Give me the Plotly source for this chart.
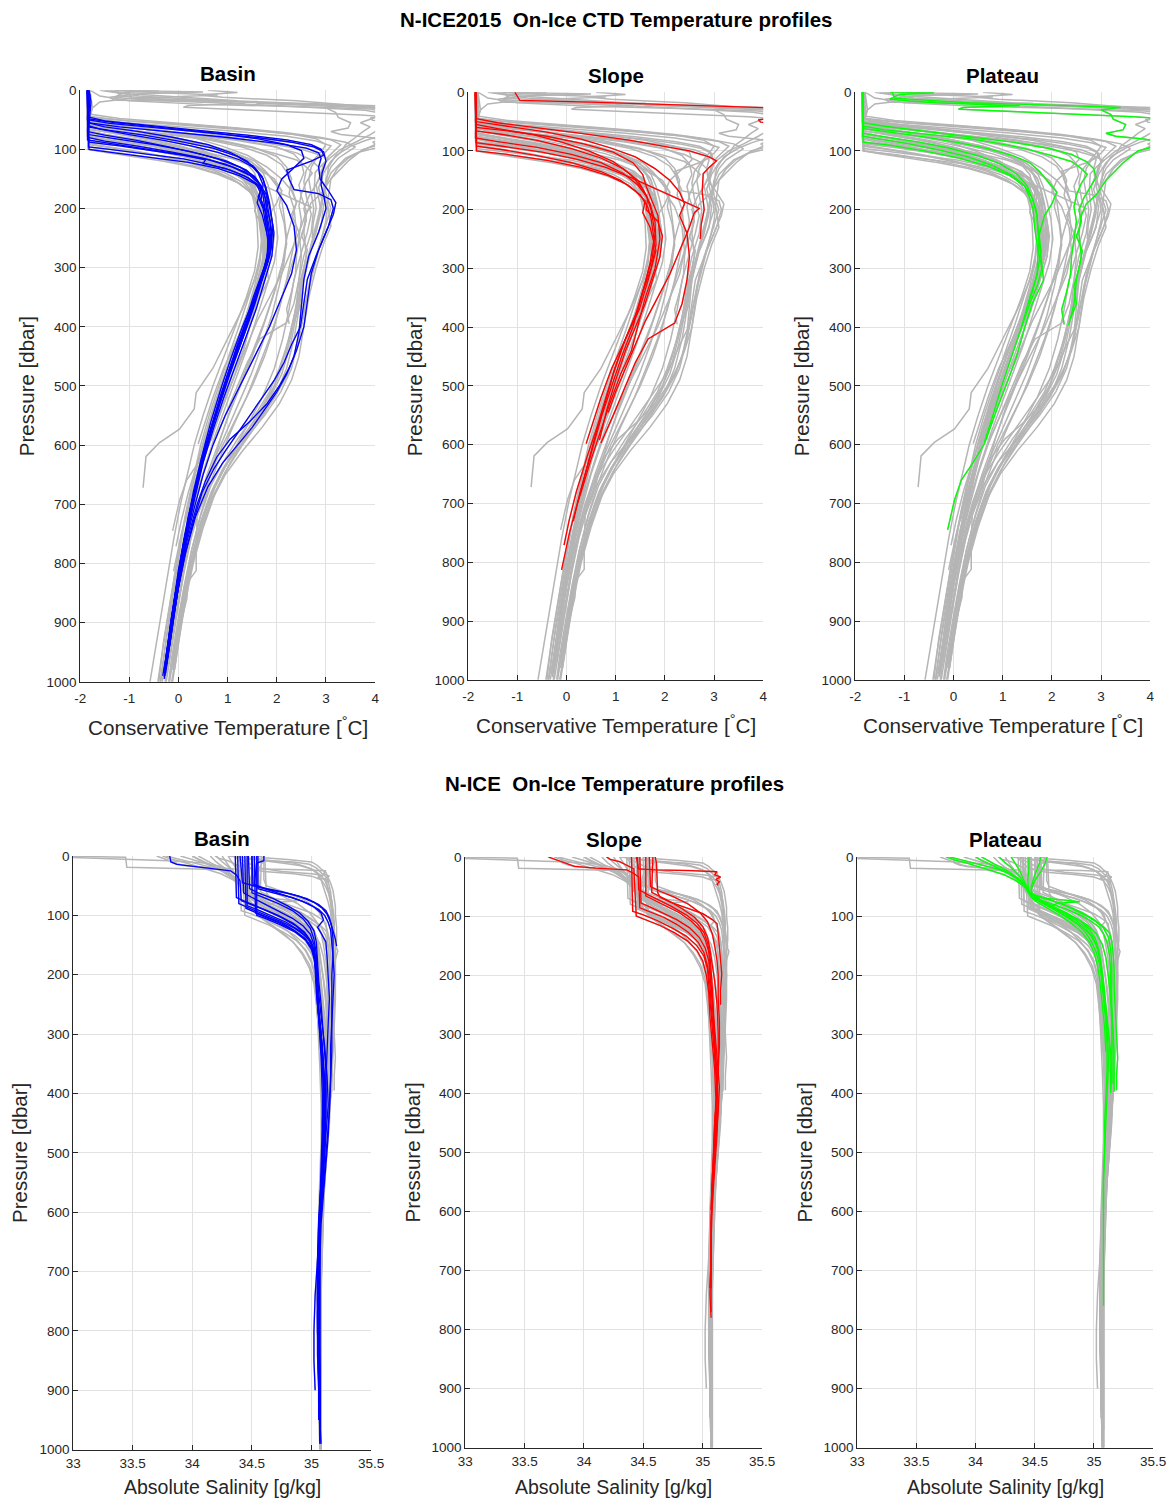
import plotly.graph_objects as go

# ---------------------------------------------------------------------------
# Conservative Temperature profiles: each profile is a list of (pressure dbar, CT degC)
# ---------------------------------------------------------------------------
basin_ct = [
    [(0,-1.84),(8,-1.80),(60,-1.83),(66,-1.6),(75,-1.0),(85,-0.3),(95,0.3),(105,0.8),(118,1.25),(132,1.55),(150,1.72),(170,1.78),(200,1.82),(240,1.9),(280,1.86),(320,1.7),(360,1.5),(400,1.36),(450,1.14),(500,0.93),(550,0.74),(600,0.55),(650,0.4),(700,0.26),(760,0.11),(820,-0.01),(880,-0.12),(940,-0.22),(985,-0.3)],
    [(0,-1.86),(55,-1.84),(62,-1.5),(70,-0.8),(80,-0.1),(92,0.6),(105,1.05),(120,1.4),(140,1.62),(160,1.72),(185,1.68),(210,1.8),(250,1.88),(290,1.78),(330,1.62),(380,1.45),(430,1.22),(480,1.0),(540,0.78),(600,0.56),(660,0.37),(720,0.2),(780,0.07),(840,-0.05),(900,-0.16),(960,-0.26)],
    [(0,-1.82),(20,-1.78),(80,-1.84),(86,-1.5),(95,-0.8),(105,-0.1),(115,0.5),(125,0.95),(138,1.35),(152,1.6),(165,1.7),(180,1.62),(200,1.72),(230,1.78),(270,1.84),(310,1.72),(350,1.55),(400,1.3),(450,1.08),(500,0.88),(560,0.66),(620,0.47),(680,0.3),(740,0.16),(800,0.03),(860,-0.08),(920,-0.18),(975,-0.28)],
    [(0,-1.85),(96,-1.83),(100,-1.4),(108,-0.6),(116,0.1),(125,0.6),(135,1.05),(148,1.42),(160,1.62),(175,1.75),(195,1.78),(220,1.86),(260,1.9),(300,1.78),(340,1.6),(390,1.42),(440,1.2),(490,1.0),(540,0.8),(590,0.6),(640,0.45),(690,0.3),(750,0.14),(810,0.0),(870,-0.1),(930,-0.2),(990,-0.32)],
    [(0,-1.83),(70,-1.85),(76,-1.5),(85,-0.85),(96,-0.2),(108,0.45),(120,0.98),(135,1.38),(150,1.58),(168,1.7),(190,1.74),(220,1.8),(260,1.86),(300,1.74),(350,1.52),(400,1.33),(460,1.08),(520,0.84),(580,0.63),(640,0.43),(700,0.27),(760,0.12),(820,0.0),(880,-0.11),(940,-0.21),(992,-0.29)],
    [(0,-1.84),(88,-1.82),(94,-1.2),(102,-0.5),(110,0.1),(118,0.55),(124,0.5),(132,0.95),(145,1.35),(158,1.58),(172,1.66),(190,1.6),(210,1.7),(250,1.82),(290,1.8),(330,1.63),(380,1.44),(430,1.2),(480,1.02),(530,0.82),(590,0.6),(650,0.4),(710,0.24),(770,0.1),(830,-0.02),(890,-0.14),(945,-0.23)],
    [(0,-1.85),(62,-1.84),(68,-1.4),(76,-0.7),(86,0.0),(98,0.7),(112,1.2),(128,1.52),(146,1.7),(165,1.78),(190,1.85),(230,1.92),(270,1.88),(310,1.74),(360,1.56),(410,1.35),(460,1.12),(510,0.9),(560,0.72),(620,0.5),(680,0.33),(740,0.18),(800,0.05),(860,-0.06),(920,-0.17),(980,-0.27)],
    [(0,-1.86),(100,-1.82),(106,-1.3),(114,-0.5),(122,0.2),(132,0.8),(145,1.25),(158,1.55),(172,1.72),(190,1.8),(220,1.76),(250,1.86),(290,1.82),(330,1.66),(380,1.47),(430,1.26),(480,1.04),(530,0.84),(580,0.66),(640,0.46),(700,0.29),(760,0.14),(820,0.02),(880,-0.09),(940,-0.2),(990,-0.28)],
    [(0,-1.84),(75,-1.83),(82,-1.3),(92,-0.5),(104,0.25),(116,0.8),(130,1.25),(146,1.55),(162,1.68),(180,1.65),(205,1.76),(245,1.84),(285,1.8),(325,1.66),(370,1.5),(420,1.28),(470,1.05),(520,0.86),(575,0.66),(630,0.47),(690,0.31),(750,0.16),(810,0.04),(870,-0.07),(930,-0.19),(985,-0.26)],
    [(0,-1.85),(84,-1.85),(90,-1.4),(99,-0.7),(108,0.0),(118,0.62),(130,1.1),(144,1.45),(160,1.66),(178,1.8),(200,1.86),(240,1.94),(280,1.9),(320,1.76),(370,1.58),(420,1.36),(470,1.14),(520,0.92),(570,0.72),(630,0.5),(690,0.33),(750,0.18),(810,0.05),(870,-0.06),(925,-0.16),(978,-0.25)],
    [(0,-1.82),(45,-1.84),(52,-1.5),(60,-0.6),(68,0.4),(76,1.4),(84,2.2),(92,2.7),(100,2.9),(110,2.95),(120,2.7),(135,2.2),(150,2.25),(168,2.35),(175,2.85),(185,3.1),(200,3.15),(230,3.05),(270,2.85),(310,2.7),(360,2.62),(400,2.55),(440,2.4),(470,2.25),(500,2.05),(530,1.8),(560,1.45),(590,1.05),(620,0.78),(660,0.55),(700,0.38),(760,0.18),(820,0.04),(880,-0.08),(940,-0.18)],
    [(0,-1.84),(50,-1.85),(56,-1.4),(64,-0.4),(72,0.6),(80,1.6),(88,2.3),(96,2.75),(104,2.95),(120,3.0),(140,2.92),(160,2.9),(180,2.96),(200,3.0),(240,2.85),(280,2.65),(320,2.55),(370,2.5),(410,2.45),(450,2.35),(480,2.2),(510,2.0),(540,1.75),(570,1.5),(600,1.2),(630,0.9),(670,0.6),(720,0.35),(780,0.15),(840,0.0),(900,-0.12),(960,-0.22)],
    [(0,-1.85),(55,-1.84),(62,-1.2),(70,-0.2),(80,1.0),(90,2.0),(98,2.6),(106,2.85),(115,2.9),(130,2.85),(150,2.88),(170,3.05),(190,3.2),(210,3.15),(240,3.0),(280,2.8),(320,2.62),(360,2.55),(400,2.48),(430,2.3),(460,2.15),(490,1.95),(520,1.7),(550,1.45),(580,1.2),(610,0.95),(640,0.72),(680,0.48),(730,0.3),(790,0.12),(850,-0.02),(910,-0.13),(970,-0.24)],
    [(0,-1.83),(48,-1.85),(55,-1.3),(63,-0.3),(72,0.7),(82,1.6),(92,2.2),(102,2.5),(115,2.55),(135,2.3),(150,2.1),(170,2.0),(195,2.2),(230,2.35),(270,2.4),(310,2.3),(350,2.1),(400,1.85),(450,1.55),(500,1.25),(550,0.95),(600,0.7),(650,0.5),(700,0.34),(760,0.16),(820,0.03),(880,-0.09),(940,-0.19),(995,-0.29)],
]

slope_ct = [
    [(0,-1.05),(8,-1.0),(14,-0.95),(17,0.5),(22,2.5),(27,4.3),(36,4.6),(44,4.2),(47,3.9),(51,3.95),(54,4.4),(60,4.6)],
    [(0,-1.85),(55,-1.84),(62,-1.4),(72,-0.7),(85,-0.1),(100,0.45),(118,0.95),(140,1.3),(165,1.55),(190,1.7),(220,1.8),(260,1.82),(300,1.72),(340,1.55),(400,1.35),(450,1.12),(500,0.92),(550,0.72),(600,0.55),(650,0.38),(700,0.22),(750,0.06),(813,-0.1)],
    [(0,-1.86),(66,-1.84),(72,-1.3),(82,-0.6),(96,0.1),(112,0.7),(130,1.15),(150,1.45),(175,1.62),(200,1.72),(240,1.8),(280,1.75),(320,1.62),(370,1.45),(420,1.2),(470,0.98),(520,0.8),(570,0.62),(620,0.42),(680,0.2),(730,0.05),(771,-0.05)],
    [(0,-1.85),(92,-1.83),(98,-1.3),(108,-0.6),(120,0.1),(135,0.7),(150,1.1),(168,1.4),(185,1.6),(205,1.55),(230,1.7),(270,1.82),(320,1.66),(370,1.48),(420,1.2),(470,0.92),(520,0.7),(560,0.55),(598,0.4)],
    [(0,-1.84),(78,-1.85),(84,-1.4),(94,-0.6),(106,0.1),(120,0.7),(138,1.15),(158,1.45),(180,1.65),(200,1.62),(220,1.86),(245,1.95),(280,1.9),(320,1.75),(360,1.6),(400,1.4),(440,1.2),(490,1.0),(540,0.82),(592,0.67)],
    [(0,-1.84),(50,-1.85),(58,-1.2),(68,-0.4),(80,0.3),(95,0.9),(110,1.4),(130,1.8),(150,2.1),(170,2.3),(190,2.4),(210,2.3),(240,2.45),(280,2.5),(320,2.45),(360,2.35),(393,2.2),(420,1.66),(460,1.4),(505,1.18),(550,0.95),(597,0.7)],
    [(0,-1.84),(45,-1.83),(52,-1.4),(60,-0.6),(70,0.3),(82,1.3),(92,2.0),(100,2.5),(110,2.9),(117,3.05),(128,2.9),(139,2.78),(170,2.76),(200,2.8),(225,2.74),(250,2.72)],
    [(0,-1.86),(60,-1.84),(66,-1.2),(75,-0.4),(88,0.35),(102,0.95),(120,1.35),(140,1.55),(160,1.62),(180,1.72),(210,1.86),(250,1.9),(300,1.8),(350,1.6),(400,1.45),(440,1.32),(480,1.1),(530,0.88),(580,0.68),(630,0.48),(680,0.3),(700,0.22)],
    [(0,-1.85),(86,-1.84),(92,-1.3),(102,-0.5),(114,0.2),(128,0.8),(145,1.3),(160,1.7),(175,2.1),(190,2.5),(198,2.7),(205,2.6),(230,2.5),(270,2.3),(310,2.1),(350,1.85),(390,1.6),(430,1.4),(470,1.2),(510,1.0),(545,0.85)],
    [(0,-1.85),(100,-1.83),(106,-1.2),(116,-0.4),(128,0.3),(142,0.85),(158,1.25),(175,1.5),(195,1.65),(215,1.72),(250,1.78),(290,1.7),(330,1.58),(380,1.4),(430,1.15),(480,0.95),(530,0.78),(580,0.6),(630,0.44),(680,0.28),(730,0.14)],
]

plateau_ct = [
    [(0,-1.3),(1,-0.4),(4,-1.1),(12,-1.3),(15,-0.9),(18,-0.35),(21,0.6),(23,1.35),(26,0.2),(29,0.1),(34,1.5),(38,2.8),(42,3.7),(44,4.05),(48,4.4)],
    [(0,-1.25),(10,-1.2),(14,-0.5),(18,0.3),(22,2.0),(26,3.4),(30,3.0),(38,3.2),(46,3.25),(55,3.5),(64,3.45),(70,3.1),(75,3.3),(80,3.9),(84,4.1),(90,4.2),(100,3.75),(120,3.45),(150,3.1),(175,2.9),(190,2.7),(210,2.6),(240,2.55),(280,2.6),(320,2.5),(360,2.45),(397,2.34)],
    [(0,-1.85),(58,-1.84),(64,-1.4),(72,-0.5),(80,0.4),(90,1.1),(98,1.55),(108,2.0),(118,2.4),(130,2.6),(140,2.72),(155,2.6),(175,2.5),(195,2.45),(220,2.5),(250,2.45),(280,2.4),(310,2.38),(340,2.3),(370,2.2),(395,2.25)],
    [(0,-1.84),(62,-1.83),(68,-1.3),(76,-0.6),(86,0.1),(96,0.7),(108,1.2),(120,1.55),(135,1.75),(150,1.9),(170,2.1),(190,2.0),(210,1.85),(240,1.75),(270,1.72),(300,1.8),(330,1.7),(360,1.55),(400,1.38)],
    [(0,-1.85),(70,-1.84),(76,-1.4),(85,-0.7),(95,-0.1),(108,0.5),(122,0.95),(140,1.3),(160,1.5),(185,1.62),(210,1.7),(240,1.72),(280,1.78),(320,1.83),(360,1.6),(400,1.45),(450,1.28),(490,1.11),(540,0.88),(598,0.63),(630,0.4),(660,0.16),(694,0.02),(720,-0.05),(745,-0.12)],
    [(0,-1.86),(85,-1.84),(90,-1.3),(100,-0.6),(112,0.1),(126,0.7),(142,1.15),(160,1.45),(180,1.6),(200,1.68),(230,1.72),(270,1.78),(310,1.7),(350,1.55),(400,1.38),(450,1.18),(500,0.98),(550,0.8),(595,0.63)],
    [(0,-1.84),(52,-1.85),(58,-1.4),(66,-0.6),(75,0.3),(85,1.2),(95,1.9),(106,2.4),(118,2.7),(130,2.85),(145,2.9),(160,2.8),(180,2.65),(200,2.55),(220,2.6),(245,2.5),(270,2.62),(300,2.55),(330,2.45),(360,2.5),(385,2.38)],
    [(0,-1.83),(75,-1.85),(80,-1.5),(88,-0.9),(98,-0.3),(110,0.3),(125,0.8),(142,1.2),(160,1.45),(180,1.55),(200,1.62),(230,1.65),(270,1.72),(310,1.7),(340,1.6),(360,1.52)],
]

other_ct = [
    [(0,-1.84),(70,-1.84),(78,-1.3),(88,-0.6),(100,0.0),(115,0.6),(130,1.05),(150,1.4),(175,1.6),(200,1.68),(240,1.7),(280,1.66),(320,1.55),(370,1.3),(420,1.0),(470,0.7),(511,0.36),(539,0.32),(573,0.02),(596,-0.39),(619,-0.66),(640,-0.68),(672,-0.72)],
    [(0,-1.6),(5,-1.2),(10,-0.8),(15,0.2),(20,1.5),(25,2.8),(30,4.3),(40,4.6),(60,4.5),(75,4.2),(85,3.8),(95,3.5),(110,3.2),(130,3.05),(160,3.0),(200,2.9),(250,2.75),(300,2.6),(350,2.45),(400,2.3),(450,2.15),(500,1.95),(550,1.6),(600,1.2),(650,0.85),(700,0.58),(760,0.38),(820,0.22),(880,0.1),(940,-0.02),(1000,-0.14)],
    [(0,-1.8),(10,-1.6),(18,-1.0),(24,0.5),(28,2.5),(32,3.9),(38,4.3),(50,4.4),(65,4.1),(75,3.9),(88,3.6),(100,3.3),(120,3.0),(145,2.9),(175,3.0),(200,3.1),(240,2.95),(280,2.8),(330,2.65),(380,2.55),(430,2.42),(480,2.22),(520,1.95),(560,1.6),(600,1.22),(640,0.92),(680,0.68),(730,0.46),(790,0.28),(850,0.13),(910,0.0),(970,-0.12)],
    [(0,-1.2),(3,0.5),(6,-0.8),(12,-1.4),(17,-1.3),(19,1.6),(22,1.6),(26,3.0),(31,4.2),(45,4.5),(70,4.3),(90,4.05),(100,3.8),(115,3.4),(140,3.1),(170,2.95),(210,2.85),(260,2.7),(310,2.55),(370,2.42),(430,2.28),(480,2.1),(530,1.8),(580,1.42),(630,1.05),(680,0.75),(740,0.5),(800,0.3),(860,0.15),(920,0.03),(980,-0.08)],
    [(0,0.6),(4,1.2),(8,0.4),(12,0.9),(18,2.4),(24,3.4),(28,3.9),(34,4.5),(50,4.6),(70,4.5),(80,4.2),(88,3.95),(96,4.1),(104,3.7),(115,3.45),(130,3.25),(150,3.1),(180,3.05),(220,3.0),(270,2.85),(320,2.7),(370,2.55),(420,2.45),(470,2.3),(510,2.08),(550,1.75),(590,1.35),(630,1.0),(670,0.72),(720,0.5),(780,0.32),(840,0.18),(900,0.06),(960,-0.05),(1000,-0.12)],
    [(0,-1.5),(6,-1.0),(10,-0.3),(14,0.5),(18,1.2),(22,1.0),(26,1.9),(30,3.0),(34,3.8),(40,4.2),(48,3.95),(55,3.7),(62,3.9),(70,3.75),(80,3.6),(92,3.4),(105,3.3),(120,3.1),(140,2.95),(165,2.85),(195,2.95),(230,2.9),(270,2.7),(320,2.55),(370,2.45),(420,2.35),(470,2.2),(515,1.98),(555,1.68),(600,1.3),(645,0.95),(690,0.68),(740,0.46),(800,0.27),(860,0.12),(920,0.0),(980,-0.1)],
    [(0,-1.84),(40,-1.85),(48,-1.2),(56,0.0),(64,1.2),(72,2.2),(80,2.9),(88,3.4),(96,3.6),(104,3.45),(115,3.25),(130,3.1),(150,3.0),(175,2.95),(200,3.05),(230,3.1),(260,2.95),(300,2.8),(350,2.65),(400,2.55),(450,2.45),(490,2.3),(530,2.05),(570,1.7),(610,1.3),(650,0.95),(690,0.7),(740,0.48),(800,0.28),(860,0.12),(920,0.0),(980,-0.12)],
    [(0,-1.85),(44,-1.84),(52,-1.0),(60,0.3),(68,1.5),(76,2.5),(84,3.1),(92,3.3),(100,3.2),(112,3.05),(125,2.95),(140,2.9),(160,2.8),(180,2.85),(205,2.9),(240,2.8),(280,2.65),(320,2.5),(370,2.38),(420,2.25),(470,2.05),(510,1.85),(550,1.55),(590,1.2),(630,0.9),(670,0.65),(720,0.45),(780,0.26),(840,0.12),(900,0.0),(960,-0.12),(1000,-0.18)],
    [(0,-1.83),(50,-1.84),(58,-1.3),(66,-0.5),(76,0.5),(86,1.4),(96,2.0),(108,2.35),(122,2.5),(140,2.55),(160,2.45),(180,2.5),(205,2.6),(235,2.55),(270,2.4),(310,2.25),(350,2.1),(400,1.95),(450,1.75),(500,1.5),(550,1.2),(600,0.9),(650,0.65),(700,0.45),(760,0.25),(820,0.1),(880,-0.02),(940,-0.14),(1000,-0.25)],
    [(0,-1.85),(58,-1.85),(65,-1.2),(74,-0.3),(84,0.6),(96,1.3),(110,1.8),(126,2.1),(145,2.25),(165,2.3),(190,2.4),(220,2.3),(250,2.2),(290,2.15),(330,2.05),(380,1.9),(430,1.7),(480,1.48),(530,1.22),(580,0.95),(630,0.7),(680,0.5),(730,0.32),(790,0.16),(850,0.03),(910,-0.09),(970,-0.2)],
    [(0,-1.84),(65,-1.84),(72,-1.4),(82,-0.7),(94,0.0),(108,0.6),(124,1.05),(142,1.38),(162,1.56),(185,1.62),(210,1.66),(250,1.7),(290,1.66),(330,1.55),(380,1.38),(430,1.16),(480,0.94),(530,0.74),(580,0.56),(630,0.4),(680,0.25),(740,0.1),(800,-0.02),(860,-0.13),(920,-0.24),(980,-0.34),(1000,-0.37)],
    [(0,-1.86),(90,-1.84),(96,-1.4),(104,-0.8),(114,-0.15),(126,0.45),(140,0.95),(156,1.3),(174,1.5),(196,1.6),(225,1.66),(260,1.7),(300,1.62),(345,1.45),(395,1.25),(445,1.04),(495,0.84),(545,0.64),(600,0.45),(655,0.3),(710,0.16),(770,0.02),(830,-0.1),(890,-0.22),(950,-0.33),(1000,-0.42)],
    [(0,-1.85),(100,-1.84),(105,-1.5),(112,-0.9),(120,-0.3),(130,0.3),(142,0.8),(156,1.2),(172,1.45),(192,1.6),(220,1.7),(255,1.76),(295,1.72),(340,1.55),(390,1.34),(440,1.12),(490,0.9),(540,0.7),(590,0.52),(640,0.36),(690,0.22),(750,0.07),(810,-0.06),(870,-0.18),(930,-0.3),(1000,-0.4)],
    [(0,-1.84),(78,-1.85),(85,-1.4),(94,-0.8),(105,-0.1),(118,0.5),(132,0.95),(150,1.3),(170,1.48),(195,1.55),(225,1.6),(265,1.62),(305,1.55),(350,1.38),(400,1.15),(450,0.92),(500,0.7),(550,0.5),(600,0.32),(650,0.18),(700,0.04),(760,-0.1),(820,-0.22),(880,-0.33),(940,-0.45),(1000,-0.58)],
    [(0,-1.83),(55,-1.84),(62,-1.4),(70,-0.8),(80,-0.1),(92,0.6),(106,1.15),(122,1.5),(140,1.72),(160,1.82),(185,1.9),(215,1.98),(250,2.02),(290,1.95),(330,1.8),(380,1.62),(430,1.42),(480,1.2),(530,0.98),(580,0.76),(630,0.56),(680,0.38),(740,0.2),(800,0.06),(860,-0.06),(920,-0.18),(980,-0.3),(1000,-0.33)],
    [(0,-1.86),(68,-1.84),(75,-1.5),(84,-1.0),(96,-0.3),(110,0.35),(126,0.9),(144,1.3),(164,1.52),(188,1.66),(215,1.75),(250,1.8),(290,1.78),(335,1.64),(385,1.45),(435,1.24),(485,1.02),(535,0.8),(585,0.6),(640,0.42),(695,0.27),(750,0.12),(810,-0.01),(870,-0.13),(930,-0.25),(1000,-0.36)],
    [(0,-1.4),(4,-0.5),(8,0.8),(10,0.2),(14,-1.0),(20,-1.6),(30,-1.75),(46,-1.8),(54,-1.2),(62,0.0),(70,1.2),(78,2.2),(86,2.8),(94,3.1),(104,3.0),(116,2.8),(130,2.7),(150,2.65),(175,2.7),(200,2.75),(240,2.7),(280,2.55),(320,2.45),(360,2.4),(410,2.3),(460,2.15),(510,1.9),(555,1.58),(600,1.2),(640,0.9),(680,0.66),(730,0.45),(790,0.26),(850,0.12),(910,0.0),(970,-0.12)],
    [(0,-1.84),(60,-1.84),(68,-1.3),(78,-0.5),(90,0.3),(104,0.95),(120,1.45),(140,1.8),(162,2.0),(185,2.1),(215,2.15),(250,2.2),(290,2.12),(340,1.95),(390,1.75),(440,1.52),(490,1.28),(540,1.05),(590,0.85),(640,0.68),(690,0.52),(720,0.38),(770,0.36),(812,0.36),(830,0.2),(860,0.17),(900,0.05),(950,-0.08),(991,-0.17)],
    [(0,-1.85),(52,-1.84),(60,-1.2),(70,-0.3),(82,0.7),(96,1.5),(112,2.0),(130,2.2),(150,2.3),(175,2.25),(200,2.35),(240,2.4),(280,2.3),(320,2.2),(370,2.05),(420,1.85),(470,1.62),(520,1.38),(570,1.1),(620,0.85),(670,0.62),(720,0.44),(780,0.26),(840,0.11),(900,-0.02),(960,-0.14),(1000,-0.2)],
    [(0,-1.84),(72,-1.84),(80,-1.2),(90,-0.4),(102,0.4),(116,1.1),(132,1.6),(150,1.95),(170,2.1),(195,2.05),(225,2.15),(260,2.2),(300,2.1),(350,1.92),(400,1.72),(450,1.5),(500,1.26),(550,1.02),(600,0.8),(650,0.58),(700,0.4),(760,0.22),(820,0.08),(880,-0.05),(940,-0.17),(1000,-0.27)],
    [(0,-1.8),(30,-1.75),(46,-1.82),(52,-1.0),(58,0.2),(66,1.4),(74,2.3),(82,2.8),(92,3.0),(104,2.9),(118,2.75),(135,2.6),(155,2.55),(180,2.6),(210,2.7),(240,2.62),(280,2.48),(320,2.35),(370,2.25),(420,2.12),(470,1.95),(520,1.7),(570,1.38),(620,1.05),(670,0.75),(720,0.52),(780,0.3),(840,0.14),(900,0.01),(960,-0.1)],
]

# ---------------------------------------------------------------------------
# Absolute Salinity profiles: each profile is a list of (pressure dbar, SA g/kg)
# ---------------------------------------------------------------------------
basin_sa = [
    [(0,34.42),(62,34.43),(70,34.5),(80,34.6),(92,34.72),(105,34.84),(118,34.93),(132,34.99),(150,35.02),(180,35.04),(220,35.05),(260,35.06),(300,35.08),(350,35.1),(400,35.1),(450,35.09),(500,35.09),(560,35.08),(620,35.07),(700,35.07),(780,35.07),(860,35.07),(940,35.07),(985,35.07)],
    [(0,34.47),(55,34.48),(62,34.55),(72,34.68),(84,34.8),(96,34.9),(110,34.97),(126,35.02),(145,35.04),(175,35.05),(210,35.06),(250,35.08),(300,35.1),(360,35.12),(420,35.12),(480,35.11),(540,35.09),(600,35.07),(680,35.06),(760,35.06),(840,35.06),(920,35.06),(960,35.07)],
    [(0,34.38),(80,34.39),(88,34.48),(98,34.6),(110,34.74),(122,34.86),(136,34.96),(152,35.01),(175,35.03),(200,35.04),(240,35.05),(280,35.07),(320,35.09),(380,35.1),(440,35.1),(500,35.09),(560,35.08),(620,35.06),(700,35.05),(780,35.05),(860,35.06),(930,35.07),(975,35.07)],
    [(0,34.52),(96,34.53),(102,34.6),(112,34.72),(124,34.84),(138,34.94),(155,35.0),(175,35.03),(200,35.04),(240,35.05),(290,35.07),(340,35.09),(400,35.11),(460,35.1),(520,35.09),(580,35.08),(640,35.07),(720,35.07),(800,35.07),(880,35.07),(950,35.07),(990,35.07)],
    [(0,34.36),(70,34.37),(78,34.46),(88,34.58),(100,34.72),(114,34.85),(128,34.94),(145,35.0),(165,35.02),(190,35.03),(230,35.04),(270,35.06),(310,35.08),(370,35.1),(430,35.11),(490,35.1),(550,35.08),(610,35.06),(680,35.05),(750,35.05),(830,35.06),(910,35.07),(990,35.07)],
    [(0,34.44),(88,34.45),(94,34.52),(104,34.64),(114,34.76),(126,34.86),(140,34.95),(156,35.01),(180,35.03),(210,35.04),(250,35.05),(290,35.07),(330,35.09),(380,35.11),(440,35.12),(500,35.11),(560,35.09),(620,35.07),(680,35.05),(740,35.03),(800,35.02),(850,35.02),(900,35.03)],
    [(0,34.5),(62,34.5),(70,34.6),(80,34.72),(92,34.84),(106,34.93),(122,34.99),(140,35.02),(165,35.04),(195,35.05),(230,35.06),(270,35.08),(320,35.11),(370,35.13),(420,35.14),(470,35.12),(530,35.1),(590,35.08),(650,35.06),(720,35.05),(800,35.05),(880,35.06),(940,35.06)],
    [(0,34.54),(100,34.54),(106,34.62),(116,34.74),(128,34.86),(142,34.95),(158,35.0),(180,35.03),(210,35.04),(250,35.05),(300,35.07),(350,35.09),(400,35.1),(460,35.1),(520,35.09),(580,35.07),(650,35.06),(720,35.06),(800,35.06),(880,35.07),(950,35.07),(990,35.08)],
    [(0,33.81),(10,33.82),(14,33.87),(18,34.05),(25,34.32),(32,34.37),(42,34.4),(75,34.41),(82,34.5),(92,34.62),(104,34.75),(118,34.87),(134,34.96),(152,35.01),(175,35.03),(210,35.04),(250,35.05),(290,35.06),(340,35.08),(400,35.09),(460,35.09),(520,35.08),(580,35.07),(650,35.06),(720,35.05),(800,35.05),(880,35.06),(930,35.06),(978,35.07)],
    [(0,34.46),(84,34.46),(90,34.54),(100,34.66),(112,34.79),(126,34.9),(142,34.98),(160,35.02),(185,35.04),(220,35.05),(260,35.06),(300,35.08),(350,35.1),(400,35.12),(450,35.11),(500,35.1),(560,35.08),(620,35.07),(690,35.06),(760,35.06),(830,35.06),(900,35.07),(960,35.07)],
    [(0,34.4),(45,34.42),(52,34.55),(60,34.75),(68,34.9),(78,35.02),(88,35.09),(98,35.13),(112,35.16),(126,35.18),(140,35.2),(152,35.21)],
    [(0,34.5),(50,34.51),(56,34.62),(64,34.82),(72,34.96),(82,35.06),(92,35.12),(104,35.15),(120,35.17),(140,35.18),(170,35.18),(200,35.17),(240,35.17),(280,35.17),(320,35.16),(370,35.16),(420,35.15),(470,35.14),(520,35.12),(570,35.1),(620,35.08),(680,35.07),(740,35.06),(800,35.06),(860,35.06),(920,35.07),(960,35.07)],
    [(0,34.55),(55,34.55),(62,34.68),(70,34.84),(80,34.97),(90,35.06),(100,35.11),(112,35.14),(125,35.16),(145,35.17),(170,35.18),(200,35.19),(240,35.18),(280,35.17),(330,35.17),(380,35.16),(430,35.15),(480,35.13),(530,35.11),(580,35.09),(630,35.07),(700,35.06),(780,35.06),(860,35.07),(940,35.07),(975,35.07)],
    [(0,34.6),(8,34.6),(12,34.54),(48,34.52),(56,34.62),(66,34.78),(76,34.92),(86,35.02),(96,35.08),(108,35.1),(120,35.05),(130,35.08),(145,35.12),(170,35.13),(200,35.14),(240,35.15),(280,35.14),(330,35.13),(380,35.12),(430,35.12),(480,35.11),(530,35.1),(580,35.08),(640,35.07),(700,35.06),(770,35.05),(840,35.05),(900,35.06),(950,35.06)],
]

slope_sa = [
    [(0,34.44),(10,34.45),(20,34.46),(22,34.6),(23,34.9),(25,35.12),(30,35.1),(34,35.15),(38,35.11),(42,35.14),(46,35.12),(48,35.13)],
    [(0,34.45),(55,34.46),(62,34.52),(72,34.62),(84,34.74),(98,34.86),(112,34.95),(128,35.01),(145,35.04),(165,35.06),(190,35.07),(220,35.08),(260,35.09),(300,35.1),(350,35.11),(400,35.12),(450,35.11),(500,35.1),(560,35.08),(620,35.07),(680,35.07),(740,35.06),(780,35.07)],
    [(0,34.52),(66,34.52),(72,34.58),(82,34.68),(94,34.8),(108,34.9),(124,34.98),(140,35.02),(160,35.05),(185,35.06),(215,35.07),(250,35.08),(290,35.1),(340,35.12),(390,35.14),(430,35.13),(480,35.11),(530,35.09),(590,35.08),(650,35.07),(710,35.07),(771,35.07)],
    [(0,34.4),(92,34.41),(98,34.5),(108,34.62),(120,34.74),(134,34.86),(150,34.95),(168,35.01),(190,35.04),(215,35.05),(250,35.07),(290,35.08),(340,35.1),(390,35.12),(440,35.12),(490,35.1),(540,35.08),(598,35.07)],
    [(0,34.47),(78,34.48),(84,34.55),(94,34.66),(106,34.78),(120,34.89),(136,34.97),(154,35.02),(176,35.05),(200,35.06),(240,35.08),(280,35.09),(320,35.1),(370,35.12),(420,35.13),(470,35.12),(520,35.1),(560,35.09),(592,35.08)],
    [(0,34.55),(50,34.56),(58,34.64),(68,34.76),(80,34.88),(95,34.98),(110,35.04),(130,35.08),(150,35.1),(175,35.12),(200,35.13),(240,35.13),(280,35.14),(320,35.14),(360,35.13),(400,35.12),(450,35.1),(500,35.09),(550,35.08),(597,35.07)],
    [(0,34.6),(10,34.61),(60,34.62),(68,34.64),(76,34.72),(86,34.86),(96,35.0),(106,35.08),(113,35.12),(130,35.13),(150,35.14),(175,35.15),(198,35.16),(225,35.15),(250,35.15)],
    [(0,34.58),(60,34.57),(66,34.63),(75,34.72),(88,34.83),(102,34.93),(118,35.0),(136,35.04),(156,35.06),(180,35.08),(210,35.1),(250,35.12),(300,35.13),(350,35.13),(400,35.12),(450,35.1),(500,35.09),(560,35.08),(620,35.07),(680,35.07),(730,35.06)],
    [(0,33.7),(6,33.78),(12,33.85),(16,33.92),(19,34.1),(22,34.36),(28,34.42),(34,34.46),(86,34.47),(92,34.55),(102,34.67),(114,34.78),(128,34.88),(144,34.96),(162,35.01),(185,35.04),(215,35.06),(250,35.07),(290,35.09),(340,35.11),(390,35.12),(440,35.11),(490,35.1),(545,35.09)],
    [(0,34.19),(4,34.22),(8,34.3),(14,34.36),(20,34.42),(100,34.44),(106,34.52),(116,34.64),(128,34.76),(142,34.87),(158,34.95),(176,35.0),(200,35.03),(230,35.05),(270,35.06),(310,35.08),(360,35.1),(410,35.11),(460,35.1),(510,35.09),(560,35.08),(620,35.07),(680,35.07),(730,35.07)],
]

plateau_sa = [
    [(0,33.75),(5,33.82),(10,33.92),(16,34.02),(22,34.12),(30,34.24),(40,34.34),(50,34.41),(60,34.45),(66,34.5),(72,34.62),(80,34.74),(90,34.84),(100,34.94),(110,35.02),(120,35.08),(135,35.12),(155,35.14),(180,35.15),(210,35.15),(250,35.15),(290,35.16),(330,35.17),(370,35.17),(397,35.17)],
    [(0,33.78),(4,33.86),(8,33.96),(14,34.08),(20,34.18),(28,34.28),(38,34.36),(48,34.42),(58,34.44),(64,34.47),(70,34.6),(74,34.8),(76,34.88),(78,34.7),(84,34.62),(92,34.72),(104,34.85),(116,34.95),(130,35.02),(148,35.07),(170,35.1),(200,35.12),(240,35.14),(280,35.15),(320,35.15),(360,35.14),(395,35.14)],
    [(0,34.05),(6,34.1),(12,34.16),(20,34.24),(30,34.32),(40,34.38),(52,34.43),(62,34.46),(72,34.54),(84,34.66),(96,34.78),(108,34.88),(122,34.96),(138,35.01),(156,35.04),(180,35.06),(210,35.08),(250,35.1),(290,35.12),(330,35.14),(370,35.15),(400,35.14)],
    [(0,34.2),(8,34.24),(18,34.3),(30,34.36),(44,34.41),(58,34.44),(68,34.47),(78,34.56),(90,34.68),(104,34.8),(118,34.9),(132,34.97),(150,35.02),(172,35.05),(200,35.07),(240,35.09),(280,35.11),(320,35.13),(360,35.12),(400,35.11),(450,35.1),(490,35.09),(540,35.08),(598,35.08),(660,35.08),(700,35.08),(760,35.08)],
    [(0,34.3),(10,34.33),(22,34.37),(36,34.4),(50,34.43),(62,34.46),(70,34.5),(80,34.6),(92,34.72),(106,34.84),(120,34.93),(136,34.99),(154,35.03),(176,35.05),(200,35.06),(240,35.08),(280,35.1),(320,35.11),(360,35.11),(400,35.1),(450,35.09),(500,35.09),(550,35.08),(595,35.08)],
    [(0,34.45),(20,34.45),(40,34.44),(58,34.45),(64,34.5),(72,34.62),(82,34.76),(94,34.9),(106,35.0),(118,35.08),(128,35.13),(142,35.15),(160,35.16),(190,35.17),(220,35.17),(260,35.18),(300,35.19),(340,35.2),(370,35.19),(395,35.19)],
    [(0,34.55),(10,34.54),(30,34.5),(50,34.47),(62,34.47),(70,34.52),(78,34.62),(88,34.76),(98,34.88),(108,34.97),(118,35.04),(130,35.08),(145,35.11),(165,35.13),(190,35.14),(220,35.14),(260,35.15),(300,35.16),(340,35.16),(385,35.16)],
    [(0,34.6),(10,34.59),(25,34.55),(40,34.5),(55,34.47),(65,34.48),(75,34.56),(88,34.66),(100,34.76),(114,34.86),(128,34.93),(144,34.98),(162,35.02),(184,35.05),(210,35.07),(250,35.09),(290,35.11),(330,35.12),(360,35.12)],
    [(0,34.0),(6,34.05),(14,34.14),(24,34.25),(36,34.35),(50,34.42),(62,34.45),(74,34.5),(86,34.6),(100,34.72),(114,34.82),(128,34.9),(144,34.96),(162,35.0),(184,35.03),(210,35.05),(250,35.07),(290,35.09),(330,35.1)],
]

other_sa = [
    [(0,32.6),(2,32.9),(4,33.2),(6,33.5),(8,33.8),(12,34.1),(18,34.25),(26,34.34),(36,34.4),(48,34.44),(60,34.47),(72,34.53),(84,34.62),(96,34.72),(110,34.82),(126,34.91),(144,34.98),(165,35.02),(190,35.04),(220,35.05),(260,35.07),(300,35.08),(350,35.1),(400,35.11),(450,35.1),(500,35.09),(560,35.08),(620,35.07),(680,35.07),(740,35.07),(800,35.07),(860,35.07),(920,35.07),(980,35.07),(1000,35.07)],
    [(0,32.8),(1,33.2),(2,33.44),(19,33.45),(21,34.0),(23,34.3),(30,34.35),(40,34.4),(55,34.44),(68,34.47),(80,34.55),(92,34.66),(106,34.78),(120,34.88),(136,34.96),(154,35.01),(176,35.04),(200,35.05),(240,35.07),(280,35.08),(330,35.1),(380,35.11),(430,35.11),(480,35.1),(540,35.09),(600,35.08),(660,35.07),(720,35.07),(780,35.07),(840,35.07),(900,35.07),(960,35.07),(1000,35.07)],
    [(0,34.55),(3,34.6),(6,34.8),(10,35.0),(16,35.05),(22,35.08),(28,35.12),(36,35.14),(46,35.16),(58,35.18),(70,35.19),(85,35.2),(100,35.2),(120,35.21),(140,35.21),(160,35.2),(200,35.19),(250,35.18),(300,35.17),(350,35.17),(400,35.16),(450,35.15),(500,35.13),(550,35.11),(600,35.1),(660,35.09),(720,35.08),(780,35.08),(840,35.08),(900,35.08),(960,35.08),(1000,35.08)],
    [(0,34.3),(4,34.5),(8,34.7),(12,34.85),(18,34.95),(24,35.02),(30,35.06),(38,35.1),(48,35.13),(60,35.15),(75,35.17),(90,35.18),(110,35.19),(130,35.19),(150,35.2),(180,35.19),(220,35.19),(260,35.18),(300,35.18),(350,35.17),(400,35.16),(460,35.14),(520,35.12),(580,35.1),(640,35.09),(700,35.08),(770,35.08),(850,35.08),(930,35.08),(1000,35.08)],
    [(0,34.45),(5,34.48),(8,34.62),(10,34.85),(14,34.98),(20,35.04),(28,35.08),(32,35.1),(36,35.13),(45,35.14),(60,35.16),(80,35.17),(100,35.18),(120,35.19),(150,35.2),(200,35.2),(250,35.19),(300,35.18),(350,35.17),(400,35.16),(450,35.14),(500,35.12),(560,35.1),(620,35.09),(700,35.08),(800,35.08),(900,35.08),(970,35.08)],
    [(0,34.35),(10,34.4),(20,34.45),(26,34.6),(30,34.85),(34,35.0),(40,35.08),(52,35.12),(66,35.15),(82,35.17),(100,35.18),(125,35.19),(150,35.2),(160,35.22),(175,35.2),(220,35.19),(280,35.18),(340,35.17),(400,35.16),(460,35.14),(520,35.12),(580,35.1),(640,35.09),(720,35.08),(800,35.08),(880,35.08),(960,35.08),(1000,35.08)],
    [(0,34.0),(10,34.1),(20,34.2),(30,34.3),(45,34.38),(60,34.44),(75,34.48),(88,34.53),(100,34.6),(112,34.7),(126,34.8),(142,34.88),(160,34.95),(180,35.0),(205,35.03),(240,35.05),(280,35.07),(320,35.08),(370,35.09),(420,35.1),(480,35.09),(540,35.08),(600,35.07),(680,35.06),(760,35.06),(840,35.06),(920,35.06),(1000,35.07)],
    [(0,33.9),(5,33.98),(12,34.1),(22,34.22),(35,34.32),(50,34.4),(65,34.45),(80,34.48),(92,34.52),(104,34.58),(116,34.66),(130,34.76),(146,34.85),(165,34.92),(188,34.98),(215,35.02),(250,35.04),(290,35.06),(340,35.08),(400,35.09),(460,35.09),(520,35.08),(580,35.07),(650,35.07),(720,35.06),(800,35.06),(880,35.06),(960,35.07),(1000,35.07)],
    [(0,34.25),(15,34.3),(30,34.36),(45,34.42),(58,34.46),(70,34.5),(82,34.57),(95,34.67),(108,34.77),(122,34.86),(138,34.93),(156,34.99),(178,35.03),(205,35.05),(240,35.06),(280,35.08),(330,35.1),(380,35.11),(430,35.11),(490,35.1),(550,35.09),(610,35.08),(680,35.07),(760,35.07),(840,35.07),(920,35.07),(1000,35.08)],
    [(0,34.6),(20,34.6),(40,34.6),(50,34.62),(56,34.7),(64,34.82),(72,34.92),(82,35.0),(94,35.06),(108,35.1),(124,35.13),(142,35.15),(165,35.16),(190,35.17),(220,35.17),(260,35.16),(300,35.16),(350,35.15),(400,35.14),(450,35.13),(500,35.12),(560,35.1),(620,35.09),(680,35.08),(760,35.08),(840,35.08),(920,35.08),(1000,35.08)],
    [(0,34.4),(30,34.4),(58,34.42),(64,34.5),(72,34.62),(82,34.75),(94,34.87),(108,34.96),(124,35.02),(142,35.05),(165,35.07),(190,35.09),(220,35.11),(260,35.13),(300,35.15),(340,35.16),(380,35.15),(430,35.14),(480,35.12),(540,35.1),(600,35.09),(660,35.08),(740,35.07),(820,35.07),(900,35.07),(980,35.07)],
    [(0,34.15),(10,34.2),(22,34.28),(36,34.35),(50,34.4),(64,34.44),(78,34.47),(90,34.5),(102,34.56),(114,34.64),(128,34.74),(144,34.84),(162,34.92),(182,34.98),(206,35.02),(235,35.04),(270,35.05),(310,35.06),(360,35.07),(420,35.08),(480,35.08),(540,35.07),(600,35.06),(680,35.06),(760,35.06),(840,35.06),(920,35.06),(1000,35.07)],
    [(0,34.5),(8,34.6),(12,34.75),(16,34.9),(22,35.0),(30,35.05),(40,35.08),(52,35.1),(64,35.12),(78,35.14),(95,35.16),(115,35.17),(140,35.18),(170,35.19),(200,35.2),(240,35.2),(280,35.19),(330,35.18),(380,35.17),(430,35.15),(480,35.13),(540,35.11),(600,35.1),(670,35.09),(740,35.08),(820,35.08),(900,35.08),(970,35.08)],
    [(0,34.38),(5,34.4),(10,34.45),(20,34.55),(26,34.75),(30,35.0),(33,35.1),(36,35.05),(40,35.12),(50,35.13),(65,35.15),(80,35.16),(100,35.17),(125,35.18),(150,35.18),(180,35.19),(220,35.19),(260,35.18),(300,35.18),(350,35.17),(400,35.16),(450,35.14),(500,35.12),(560,35.1),(620,35.09),(700,35.08),(800,35.08),(900,35.08),(1000,35.08)],
]

region_names = ["Basin", "Slope", "Plateau"]
region_colors = ["#0000ff", "#ff0000", "#00ff00"]
pressure_ticks = list(range(0, 1001, 100))
ct_ticks = [-2, -1, 0, 1, 2, 3, 4]
sa_ticks = [33, 33.5, 34, 34.5, 35, 35.5]

# ---------------------------------------------------------------------------
# Figure geometry.  Placements below are given in screen pixels of the final
# page; the page keeps the default 8 px body margin and is shown at a slight
# reduction (SX, SY), so screen pixels are converted back to figure pixels.
W, H = 1170, 1506
OFF = 8
SX, SY = 0.982, 0.989
GRAY = "#b5b5b5"
AXC = "#262626"
FONT = "Liberation Sans, Arial, Helvetica, sans-serif"


def stack(profiles):
    """Join profiles into one polyline with gaps between casts."""
    xs, ys = [], []
    for prof in profiles:
        for p, v in prof:
            ys.append(p)
            xs.append(v)
        xs.append(None)
        ys.append(None)
    return xs, ys


def fx(px):
    return (px / SX - OFF) / W


def fy(py):
    return 1 - (py / SY - OFF) / H


# plot-area boxes in screen pixels: (left, right, top, bottom)
boxes = [
    (80, 375, 91, 682), (468, 763, 93, 680), (855, 1150, 93, 680),
    (73, 371, 856, 1449), (465, 762, 857, 1447), (857, 1153, 857, 1447),
]

ct_sets = [basin_ct, slope_ct, plateau_ct]
sa_sets = [basin_sa, slope_sa, plateau_sa]
all_ct = basin_ct + slope_ct + plateau_ct + other_ct
all_sa = basin_sa + slope_sa + plateau_sa + other_sa

fig = go.Figure()
layout = {}
annotations = []

for i in range(6):
    n = i + 1
    top = i < 3
    r = i % 3
    l, rr, t, b = boxes[i]
    xa = "x" if n == 1 else f"x{n}"
    ya = "y" if n == 1 else f"y{n}"

    gx, gy = stack(all_ct if top else all_sa)
    fig.add_trace(go.Scatter(x=gx, y=gy, mode="lines", xaxis=xa, yaxis=ya,
                             line=dict(color=GRAY, width=1.5), hoverinfo="skip",
                             showlegend=False))
    cx, cy = stack(ct_sets[r] if top else sa_sets[r])
    fig.add_trace(go.Scatter(x=cx, y=cy, mode="lines", xaxis=xa, yaxis=ya,
                             line=dict(color=region_colors[r], width=1.3),
                             hoverinfo="skip", showlegend=False))

    common = dict(showline=True, linecolor=AXC, linewidth=1, ticks="inside",
                  ticklen=5, tickcolor=AXC, tickwidth=1, showgrid=True,
                  gridcolor="#e2e2e2", gridwidth=1, zeroline=False,
                  tickfont=dict(family=FONT, size=13.5, color=AXC), fixedrange=True)
    if top:
        xt = ct_ticks
        xtxt = [str(v) for v in ct_ticks]
        xrange = [-2, 4]
        standoff = 4
    else:
        xt = sa_ticks
        xtxt = [("%g" % v) for v in sa_ticks]
        xrange = [33, 35.5]
        standoff = 1
    layout["xaxis" if n == 1 else f"xaxis{n}"] = dict(
        domain=[fx(l), fx(rr)], range=xrange, anchor=ya, ticklabelstandoff=standoff,
        tickmode="array", tickvals=xt, ticktext=xtxt, **common)
    layout["yaxis" if n == 1 else f"yaxis{n}"] = dict(
        domain=[fy(b), fy(t)], range=[1000, 0], anchor=xa,
        tickmode="array", tickvals=pressure_ticks,
        ticktext=[str(v) for v in pressure_ticks], **common)

    cxp = (l + rr) / 2
    annotations.append(dict(text=f"<b>{region_names[r]}</b>", x=fx(cxp), y=fy(t - 17),
                            xref="paper", yref="paper", showarrow=False,
                            font=dict(family=FONT, size=20.5, color="#000"),
                            xanchor="center", yanchor="middle"))
    if top:
        xlabel, xlab_y, xlab_size = "Conservative Temperature [<sup>°</sup>C]", b + 44, 20.7
    else:
        # kept clear of the lower page edge
        xlabel, xlab_y, xlab_size = "Absolute Salinity [g/kg]", 1486, 19.5
    annotations.append(dict(text=xlabel, x=fx(cxp), y=fy(xlab_y),
                            xref="paper", yref="paper", showarrow=False,
                            font=dict(family=FONT, size=xlab_size, color=AXC),
                            xanchor="center", yanchor="middle"))
    annotations.append(dict(text="Pressure [dbar]", x=fx(l - 53), y=fy((t + b) / 2),
                            xref="paper", yref="paper", showarrow=False, textangle=-90,
                            font=dict(family=FONT, size=20.5, color=AXC),
                            xanchor="center", yanchor="middle"))

annotations.append(dict(text="<b>N-ICE2015\u00a0\u00a0On-Ice CTD Temperature profiles</b>",
                        x=fx(616), y=fy(20), xref="paper", yref="paper", showarrow=False,
                        font=dict(family=FONT, size=20.5, color="#000"),
                        xanchor="center", yanchor="middle"))
annotations.append(dict(text="<b>N-ICE\u00a0\u00a0On-Ice Temperature profiles</b>",
                        x=fx(614), y=fy(784), xref="paper", yref="paper", showarrow=False,
                        font=dict(family=FONT, size=20.5, color="#000"),
                        xanchor="center", yanchor="middle"))

fig.update_layout(width=W, height=H, margin=dict(l=0, r=0, t=0, b=0),
                  paper_bgcolor="white", plot_bgcolor="white",
                  annotations=annotations, **layout)

fig.write_html("out.html")
